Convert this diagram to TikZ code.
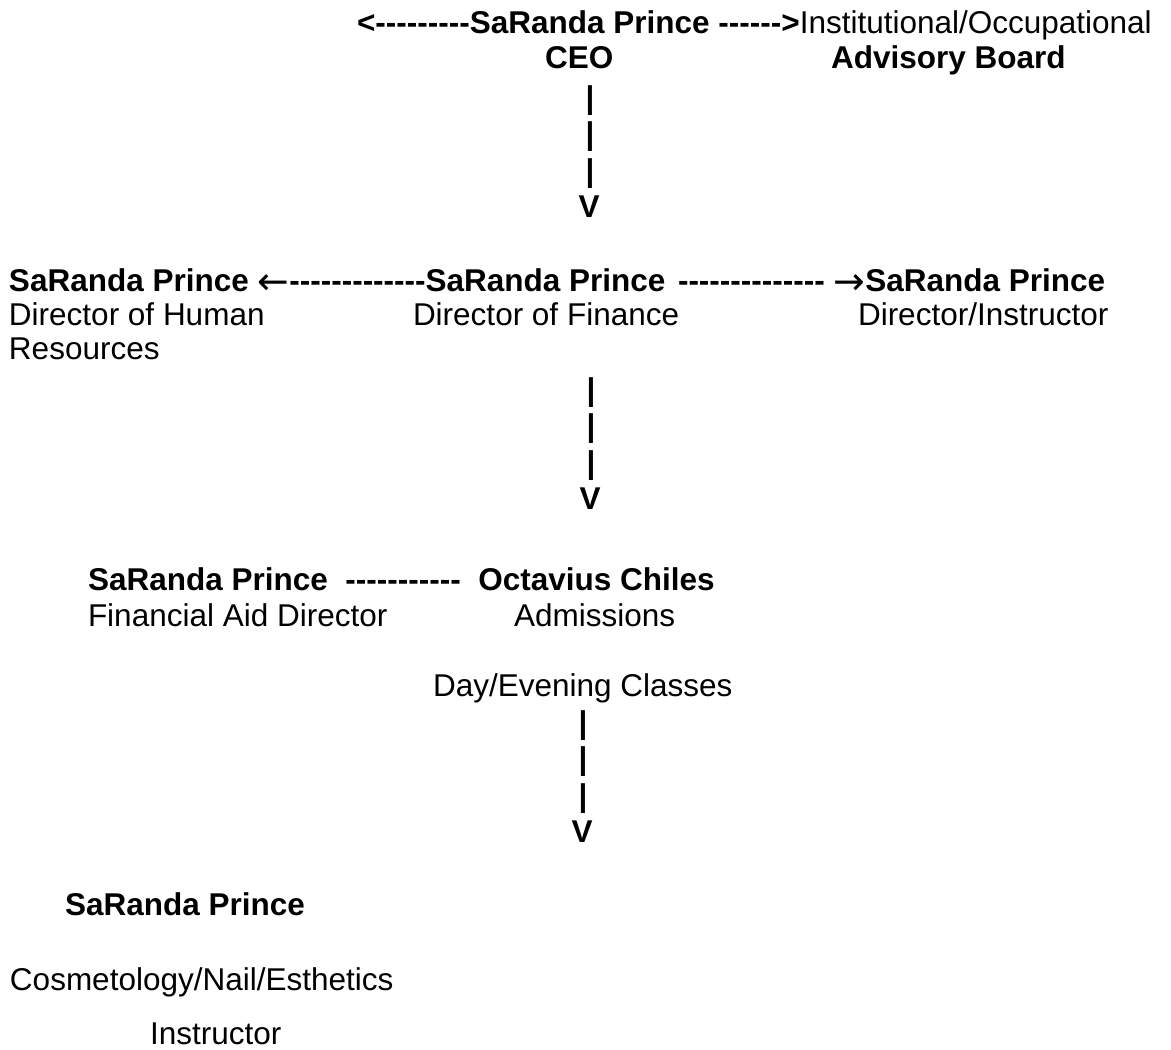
\documentclass[tikz,border=0pt]{standalone}
\usepackage{fontspec}
\newfontfamily\chartfont{Liberation Sans}
\newfontfamily\arrowfont{DejaVu Sans}
\newcommand\chartsize{\fontsize{15.75pt}{17.5pt}\selectfont}
\newcommand\bigarrow[1]{\raisebox{-1.5pt}{\scalebox{1.2}{\arrowfont\mdseries #1}}}
\usepackage{tikz}
\usetikzlibrary{positioning}

\begin{document}
\begin{tikzpicture}[x=0.5pt, y=-0.5pt,
		every node/.style={inner sep=0pt, outer sep=0pt},
		person/.style={anchor=base west, font=\chartfont\chartsize\bfseries},
		role/.style={anchor=base west, font=\chartfont\chartsize},
		link/.style={font=\chartfont\chartsize\bfseries},
		bar/.style={anchor=base, font=\chartfont\chartsize\bfseries}]
		\useasboundingbox (0,0) rectangle (1171,1049);

		% CEO and advisory board
		\node[link, anchor=base west] (ceo-l) at (357,33) {<---------};
		\node[person, base right=0pt of ceo-l] (ceo) {SaRanda Prince};
		\node[link, base right=4.4pt of ceo] (ceo-r) {------>};
		\node[role, base right=0pt of ceo-r] (board) {Institutional/Occupational};
		\node[person] (ceo-t) at (545,68) {CEO};
		\node[person] (board-t) at (831,68) {Advisory Board};

		% the three directors
		\node[person] (hr) at (9,291) {SaRanda Prince};
		\node[link, base right=4.4pt of hr] (hr-link) {\bigarrow{←}-------------};
		\node[person, base right=0pt of hr-link] (fin) {SaRanda Prince};
		\node[link, anchor=base west] (fin-link) at (678,291) {-------------- \bigarrow{→}};
		\node[person, base right=0pt of fin-link] (dir) {SaRanda Prince};
		\node[role] (hr-t) at (9,325) {Director of Human};
		\node[role] (hr-t2) at (9,359) {Resources};
		\node[role] (fin-t) at (413,325) {Director of Finance};
		\node[role] (dir-t) at (858,325) {Director/Instructor};

		% financial aid and admissions
		\node[person] (aid) at (88,590) {SaRanda Prince};
		\node[link, base right=8.8pt of aid] (aid-link) {-----------};
		\node[person, base right=8.8pt of aid-link] (adm) {Octavius Chiles};
		\node[role] (aid-t) at (88,626) {Financial Aid Director};
		\node[role] (adm-t) at (514,626) {Admissions};
		\node[role] (classes) at (433,696) {Day/Evening Classes};

		% instructor
		\node[person] (inst) at (65,915) {SaRanda Prince};
		\node[role] (inst-t) at (10,990) {Cosmetology/Nail/Esthetics};
		\node[role] (inst-t2) at (150,1044) {Instructor};

		% down links, typed as bars and a V
		\foreach \gx/\gy [count=\g] in {590/108, 591/400, 583/733} {
			\foreach \dy [count=\i] in {0,36,73}
				\node[bar] (down\g-\i) at (\gx,\gy+\dy) {|};
			\node[bar] (down\g-v) at (\gx-1,\gy+109) {V};
		}
	\end{tikzpicture}
\end{document}
